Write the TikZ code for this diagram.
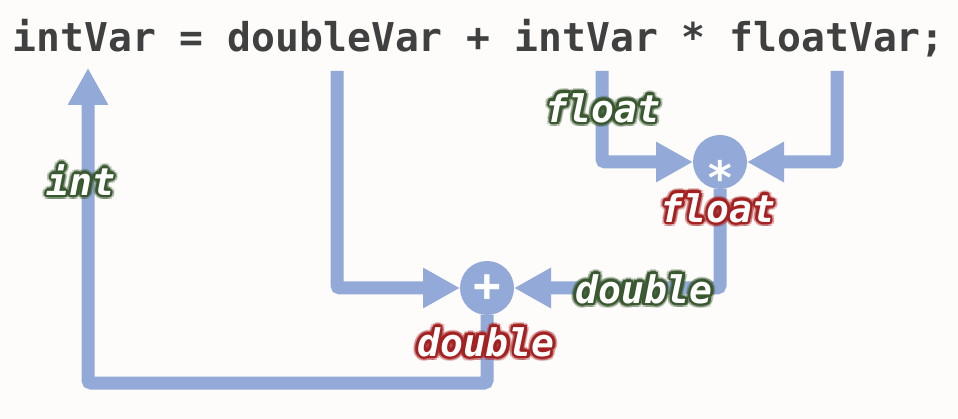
\documentclass[tikz,border=0pt]{standalone}
\usepackage{fontspec}
\setmonofont{DejaVu Sans Mono}
\usetikzlibrary{arrows.meta,calc}

\definecolor{flowblue}{RGB}{147,170,217}
\definecolor{codegray}{RGB}{64,64,64}
\definecolor{ingreen}{RGB}{58,88,48}
\definecolor{outred}{RGB}{165,32,32}
\definecolor{paper}{RGB}{253,252,251}

\tikzset{
  flow/.style={draw=flowblue, line width=13pt, rounded corners=3pt,
    -{Triangle[width=38pt,length=37pt]}},
  op/.style={circle, fill=flowblue, minimum size=54pt, inner sep=0pt,
    outer sep=0pt, text=white,
    font=\ttfamily\bfseries\fontsize{46}{46}\selectfont},
  typ/.style={inner sep=0pt,
    font=\ttfamily\bfseries\itshape\fontsize{38}{38}\selectfont},
}

% glowing type label: name, position, glow colour, text
\newcommand\typelabel[4]{%
  \foreach \a in {0,30,...,330}{
    \node[typ,text=#3,opacity=0.3] at ($(#2)+(\a:4.5)$) {#4};
    \node[typ,text=#3] at ($(#2)+(\a:2.5)$) {#4};
  }
  \node[typ,text=white] (#1) at (#2) {#4};
}

\begin{document}
\begin{tikzpicture}[x=1pt,y=-1pt]

  \path[use as bounding box,fill=paper](0,0) rectangle (958,419);

  \node[anchor=base west,inner sep=0pt,text=codegray,
        font=\ttfamily\bfseries\fontsize{39.7}{40}\selectfont]
        (code) at (12.5,52) {intVar = doubleVar + intVar * floatVar;};

  \coordinate (inttop) at (88,68);
  \coordinate (intcorner) at (88,383);
  \coordinate (dvtop) at (337,71);
  \coordinate (ivtop) at (602,71);
  \coordinate (fvtop) at (837,71);

  \node[op] (plus) at (487,288) {+};
  \node[op] (times) at (720,162) {\raisebox{-33pt}[0pt][0pt]{*}};

  \draw[flow] (dvtop) |- (plus);
  \draw[flow] (ivtop) |- (times);
  \draw[flow] (fvtop) |- (times);
  \draw[flow] (times) |- (plus);
  \draw[flow] (plus) |- (intcorner) -- (inttop);

  \typelabel{intin}{81,180}{ingreen}{int}
  \typelabel{floatin}{603,108}{ingreen}{float}
  \typelabel{floatout}{718,208}{outred}{float}
  \typelabel{doublein}{644,289}{ingreen}{double}
  \typelabel{doubleout}{486,342}{outred}{double}

\end{tikzpicture}
\end{document}
